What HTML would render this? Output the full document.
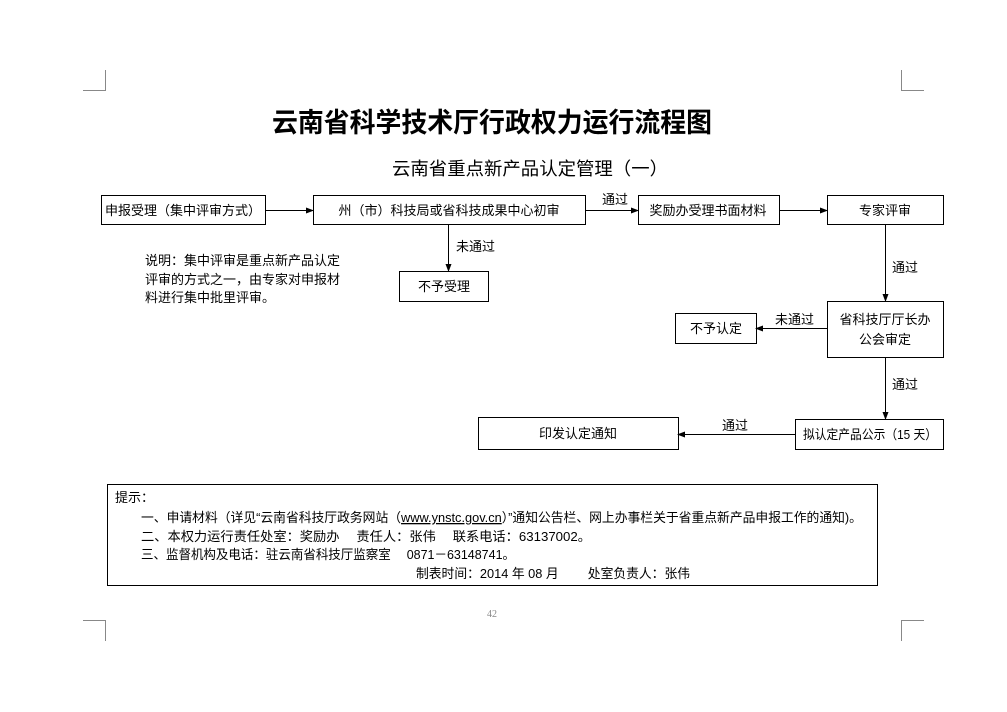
<!DOCTYPE html>
<html><head><meta charset="utf-8"><style>
html,body{margin:0;padding:0;background:#fff;}
svg{display:block;}
text{font-family:"Liberation Sans","Noto Sans CJK SC","WenQuanYi Zen Hei",sans-serif;fill:#000;}
.s{font-size:13px;}
.m{font-family:"Liberation Serif","Noto Serif CJK SC","Noto Sans CJK SC",serif;font-size:13px;}
</style></head><body>
<svg width="1007" height="712" viewBox="0 0 1007 712" xmlns="http://www.w3.org/2000/svg">
<defs><marker id="a" markerWidth="8" markerHeight="8" refX="7" refY="4" orient="auto" markerUnits="userSpaceOnUse"><path d="M0,1 L8,4 L0,7 Z" fill="#000"/></marker></defs>
<rect width="1007" height="712" fill="#fff"/>
<g stroke="#888" stroke-width="1" fill="none">
<path d="M83,90.5 H105.5 V70"/><path d="M924,90.5 H901.5 V70"/>
<path d="M83,620.5 H105.5 V641"/><path d="M924,620.5 H901.5 V641"/>
</g>
<text x="492" y="132" font-size="27" font-weight="bold" text-anchor="middle" textLength="440" lengthAdjust="spacingAndGlyphs">云南省科学技术厅行政权力运行流程图</text>
<text x="392" y="175" font-size="18" textLength="276" lengthAdjust="spacingAndGlyphs">云南省重点新产品认定管理（一）</text>
<g stroke="#000" stroke-width="1" fill="#fff">
<rect x="101.5" y="195.5" width="164" height="29"/>
<rect x="313.5" y="195.5" width="272" height="29"/>
<rect x="638.5" y="195.5" width="141" height="29"/>
<rect x="827.5" y="195.5" width="116" height="29"/>
<rect x="399.5" y="271.5" width="89" height="30"/>
<rect x="827.5" y="301.5" width="116" height="56"/>
<rect x="675.5" y="313.5" width="81" height="30"/>
<rect x="795.5" y="419.5" width="148" height="30"/>
<rect x="478.5" y="417.5" width="200" height="32"/>
<rect x="107.5" y="484.5" width="770" height="101"/>
</g>
<g stroke="#000" stroke-width="1" marker-end="url(#a)">
<line x1="265" y1="210.5" x2="313" y2="210.5"/>
<line x1="585" y1="210.5" x2="638" y2="210.5"/>
<line x1="779" y1="210.5" x2="827" y2="210.5"/>
<line x1="448.5" y1="224" x2="448.5" y2="271"/>
<line x1="885.5" y1="224" x2="885.5" y2="301"/>
<line x1="827" y1="328.5" x2="756" y2="328.5"/>
<line x1="885.5" y1="357" x2="885.5" y2="419"/>
<line x1="795" y1="434.5" x2="678" y2="434.5"/>
</g>
<g class="s">
<text x="183" y="215" text-anchor="middle">申报受理（集中评审方式）</text>
<text x="449" y="215" text-anchor="middle">州（市）科技局或省科技成果中心初审</text>
<text x="708" y="215" text-anchor="middle">奖励办受理书面材料</text>
<text x="885" y="215" text-anchor="middle">专家评审</text>
<text x="444" y="291" text-anchor="middle">不予受理</text>
<text x="885" y="324" text-anchor="middle">省科技厅厅长办</text>
<text x="885" y="344" text-anchor="middle">公会审定</text>
<text x="716" y="333" text-anchor="middle">不予认定</text>
<text x="803" y="439" textLength="134" lengthAdjust="spacingAndGlyphs">拟认定产品公示（15 天）</text>
<text x="578" y="438" text-anchor="middle">印发认定通知</text>
<text x="602" y="204">通过</text>
<text x="456" y="251">未通过</text>
<text x="892" y="272">通过</text>
<text x="775" y="324">未通过</text>
<text x="892" y="389">通过</text>
<text x="722" y="430">通过</text>
<text x="145" y="265">说明：集中评审是重点新产品认定</text>
<text x="145" y="284">评审的方式之一，由专家对申报材</text>
<text x="145" y="302">料进行集中批里评审。</text>
</g>
<g class="m">
<text x="115" y="502">提示：</text>
<text x="141" y="522" textLength="721" lengthAdjust="spacingAndGlyphs">一、申请材料（详见“云南省科技厅政务网站（<tspan text-decoration="underline">www.ynstc.gov.cn</tspan>）”通知公告栏、网上办事栏关于省重点新产品申报工作的通知)。</text>
<text x="141" y="541" textLength="450" lengthAdjust="spacingAndGlyphs">二、本权力运行责任处室：奖励办　  责任人：张伟　     联系电话：63137002。</text>
<text x="141" y="559" textLength="374" lengthAdjust="spacingAndGlyphs">三、监督机构及电话：驻云南省科技厅监察室　  0871－63148741。</text>
<text x="416" y="578" textLength="274" lengthAdjust="spacingAndGlyphs">制表时间：2014 年 08 月　　  处室负责人：张伟</text>
</g>
<text x="492" y="617" font-size="10" text-anchor="middle" style="fill:#888;font-family:'Liberation Serif',serif">42</text>
</svg>
</body></html>
